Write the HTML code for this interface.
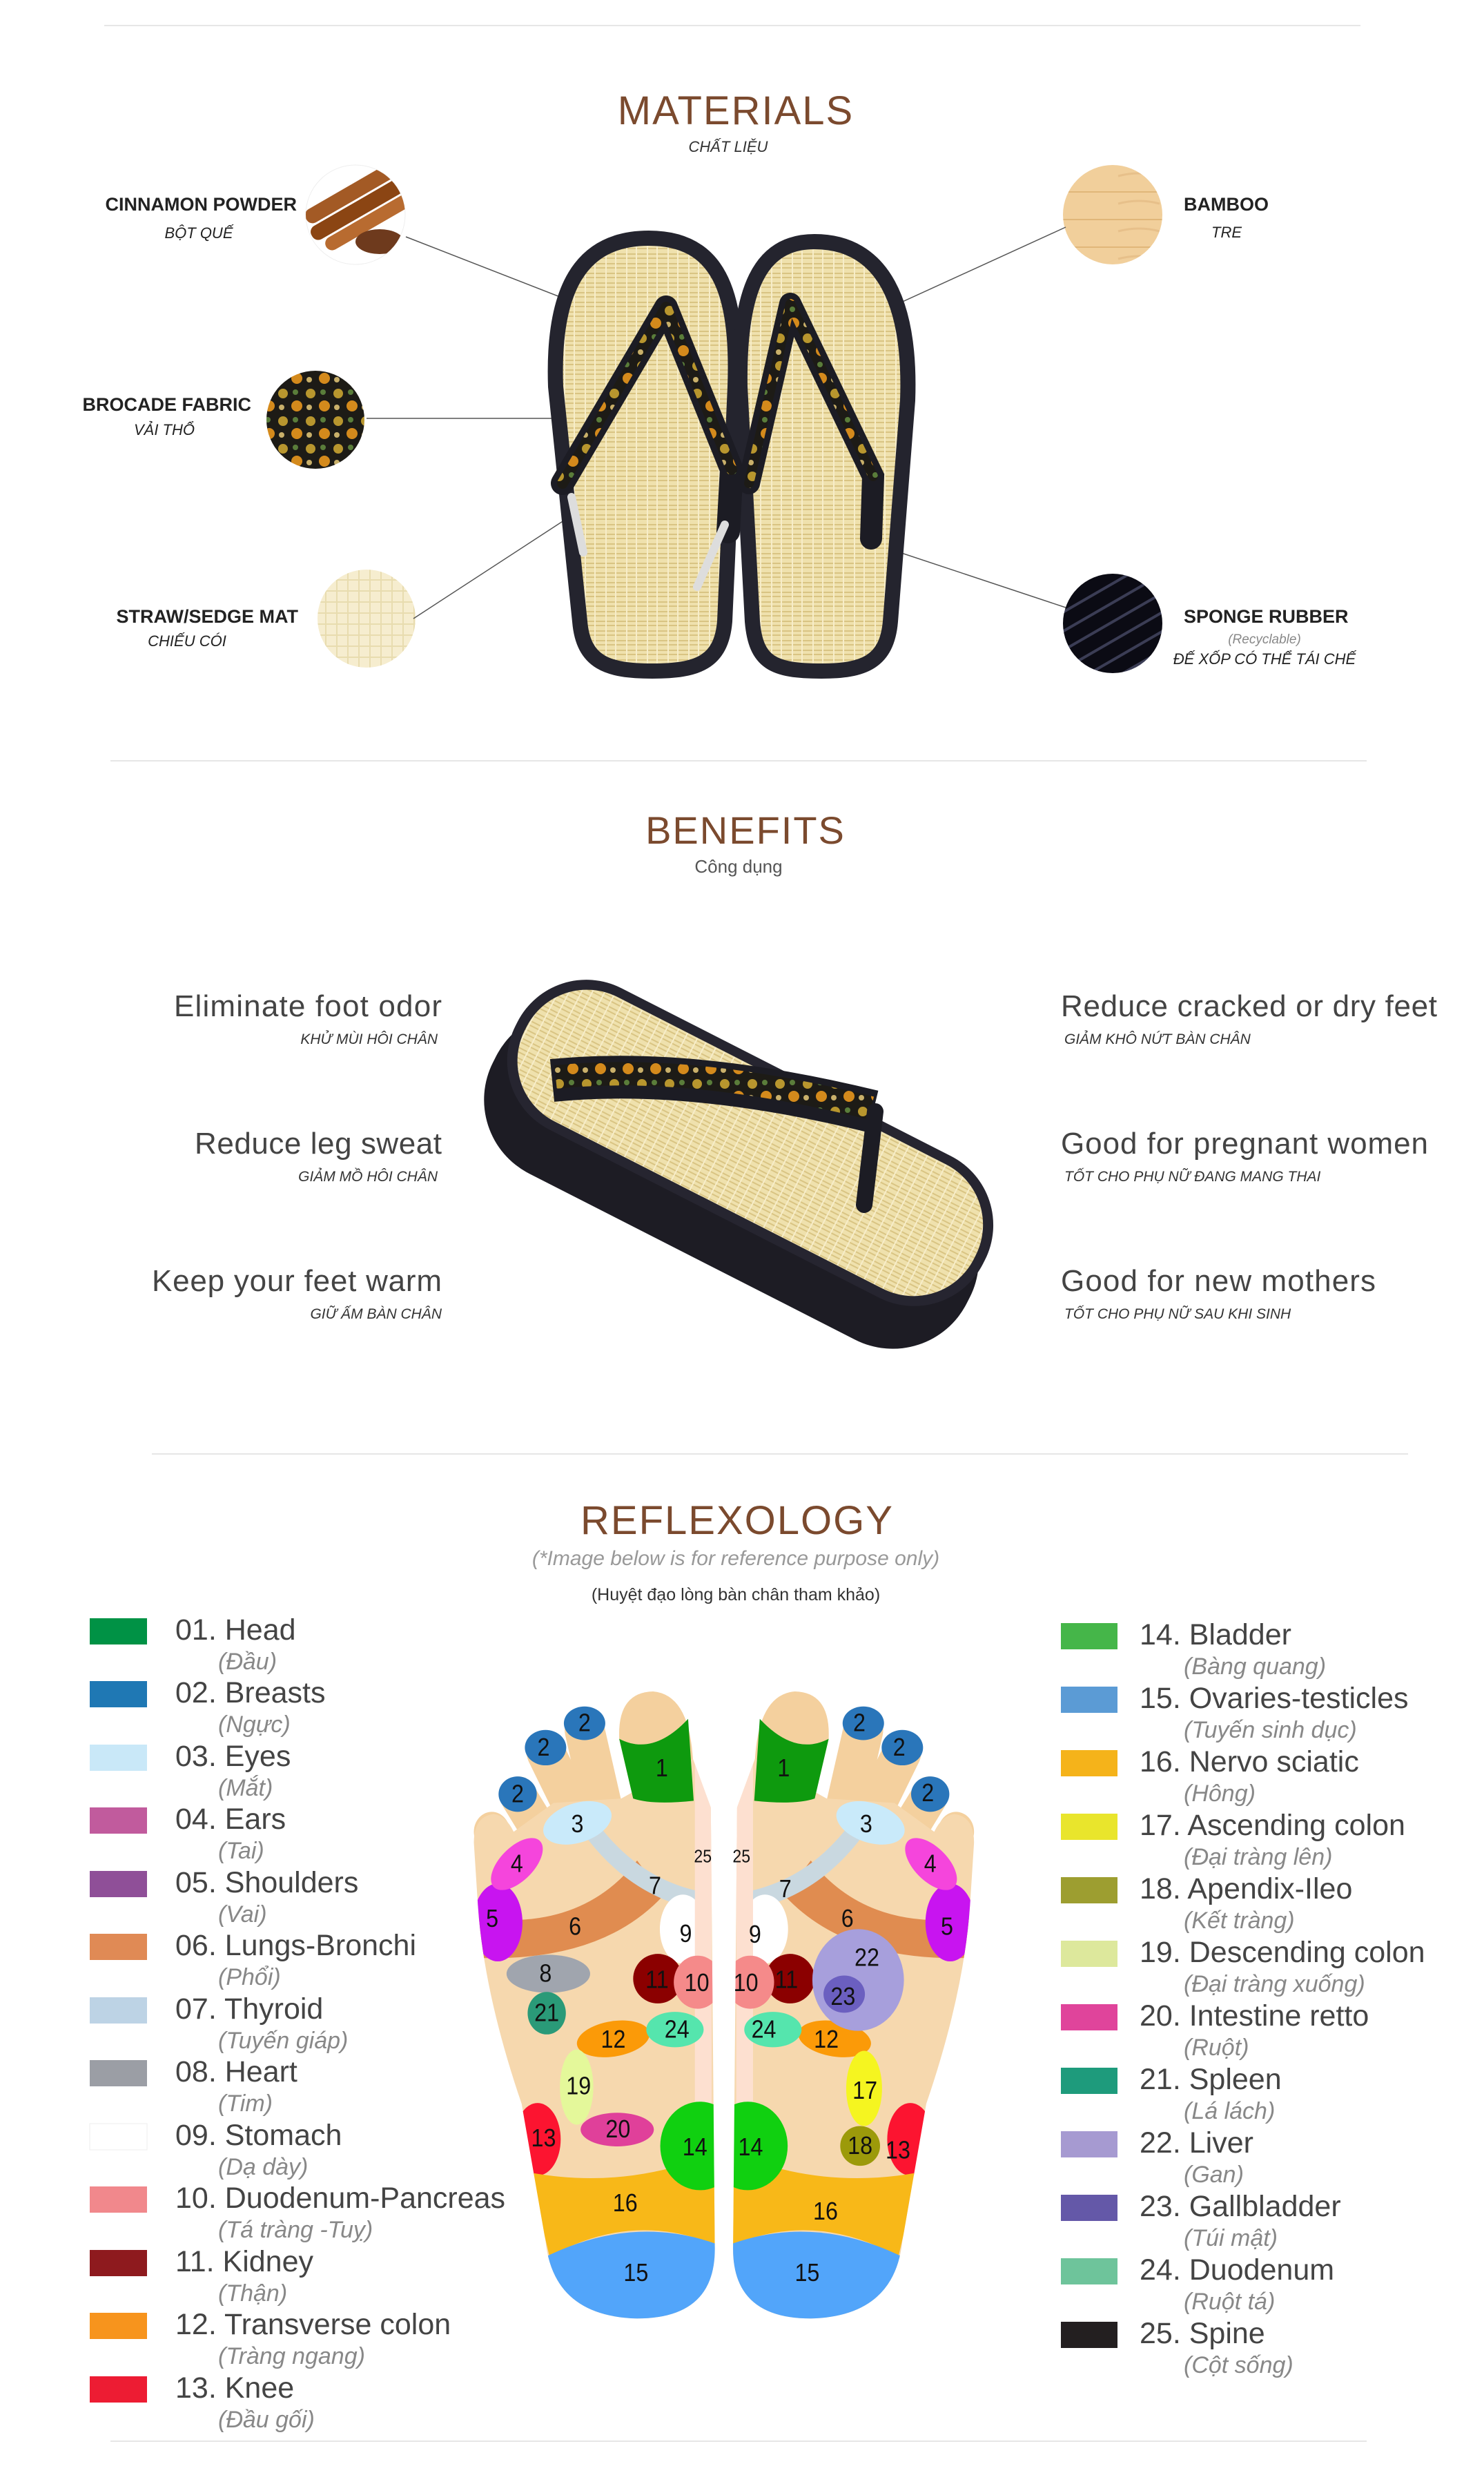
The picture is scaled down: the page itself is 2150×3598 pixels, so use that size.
<!DOCTYPE html>
<html><head><meta charset="utf-8"><style>html,body{margin:0;padding:0;background:#fff}svg{display:block}</style></head>
<body>
<svg width="2150" height="3598" viewBox="0 0 2150 3598" xmlns="http://www.w3.org/2000/svg" font-family="'Liberation Sans', sans-serif">
<defs>
<pattern id="straw" width="30" height="14" patternUnits="userSpaceOnUse"><rect width="30" height="14" fill="#efe1ad"/><path d="M0 4h30M0 10h30" stroke="#d9c483" stroke-width="2"/><path d="M8 0v14M22 0v14" stroke="#f7edc9" stroke-width="2"/></pattern>
<pattern id="brocade" width="40" height="40" patternUnits="userSpaceOnUse"><rect width="40" height="40" fill="#1d1b16"/><circle cx="10" cy="10" r="7" fill="#b8962e"/><circle cx="30" cy="28" r="8" fill="#d48a1c"/><circle cx="28" cy="8" r="4" fill="#5a7d3a"/><circle cx="8" cy="30" r="4" fill="#c9b06a"/></pattern>
<pattern id="rubber" width="24" height="24" patternUnits="userSpaceOnUse" patternTransform="rotate(60)"><rect width="24" height="24" fill="#0b0b14"/><rect width="4" height="24" fill="#3b3d55"/></pattern>
<pattern id="bamboo" width="160" height="40" patternUnits="userSpaceOnUse"><rect width="160" height="40" fill="#f1cf9b"/><path d="M0 38h160" stroke="#e0b679" stroke-width="2"/><path d="M20 15q30 -8 60 0" stroke="#e7c08a" fill="none" stroke-width="3"/></pattern>
<pattern id="mat" width="16" height="16" patternUnits="userSpaceOnUse"><rect width="16" height="16" fill="#f6edcf"/><path d="M0 8h16M8 0v16" stroke="#e8dcaf" stroke-width="2"/></pattern>
<clipPath id="c1"><circle cx="515" cy="311" r="72"/></clipPath>
</defs>

<line x1="151" y1="37" x2="1971" y2="37" stroke="#e6e6e6" stroke-width="2"/>
<line x1="160" y1="1102" x2="1980" y2="1102" stroke="#e6e6e6" stroke-width="2"/>
<line x1="220" y1="2106" x2="2040" y2="2106" stroke="#e6e6e6" stroke-width="2"/>
<line x1="160" y1="3536" x2="1980" y2="3536" stroke="#e6e6e6" stroke-width="2"/>

<text x="1066" y="180" font-size="58" fill="#7b4a2e" text-anchor="middle" letter-spacing="2">MATERIALS</text>
<text x="1055" y="220" font-size="22" font-style="italic" fill="#333" text-anchor="middle">CHẤT LIỆU</text>

<g fill="#222" font-weight="bold" font-size="27">
<text x="430" y="305" text-anchor="end">CINNAMON POWDER</text>
<text x="364" y="595" text-anchor="end">BROCADE FABRIC</text>
<text x="432" y="902" text-anchor="end">STRAW/SEDGE MAT</text>
<text x="1715" y="305">BAMBOO</text>
<text x="1715" y="902">SPONGE RUBBER</text>
</g>
<g fill="#222" font-style="italic" font-size="22">
<text x="288" y="345" text-anchor="middle">BỘT QUẾ</text>
<text x="238" y="630" text-anchor="middle">VẢI THỔ</text>
<text x="271" y="936" text-anchor="middle">CHIẾU CÓI</text>
<text x="1777" y="344" text-anchor="middle">TRE</text>
<text x="1832" y="932" text-anchor="middle" font-size="19" fill="#888">(Recyclable)</text>
<text x="1832" y="962" text-anchor="middle">ĐẾ XỐP CÓ THỂ TÁI CHẾ</text>
</g>

<circle cx="515" cy="311" r="72" fill="#fff" stroke="#eee"/>
<g clip-path="url(#c1)"><g transform="rotate(-30 515 311)"><rect x="450" y="270" width="150" height="22" rx="10" fill="#a35a25"/><rect x="445" y="295" width="150" height="22" rx="10" fill="#8b4513"/><rect x="455" y="320" width="140" height="20" rx="10" fill="#b86b30"/></g><ellipse cx="550" cy="350" rx="35" ry="18" fill="#6e3a1d"/></g>
<circle cx="457" cy="608" r="71" fill="url(#brocade)"/>
<circle cx="531" cy="896" r="71" fill="url(#mat)"/>
<circle cx="1612" cy="311" r="72" fill="url(#bamboo)"/>
<circle cx="1612" cy="903" r="72" fill="url(#rubber)"/>

<g stroke="#555" stroke-width="1.5">
<line x1="588" y1="343" x2="865" y2="451"/>
<line x1="531" y1="606" x2="800" y2="606"/>
<line x1="599" y1="896" x2="823" y2="750"/>
<line x1="1544" y1="329" x2="1253" y2="462"/>
<line x1="1544" y1="880" x2="1285" y2="794"/>
</g>

<path d="M940,345 C1040,345 1070,420 1065,560 L1050,900 C1045,960 1010,972 945,972 C880,972 845,960 840,900 L805,560 C800,420 840,345 940,345 Z" fill="url(#straw)" stroke="#24242e" stroke-width="22"/>
<path d="M1180,350 C1280,350 1320,440 1315,580 L1290,900 C1285,960 1250,972 1190,972 C1120,972 1095,960 1090,900 L1072,560 C1070,420 1100,350 1180,350 Z" fill="url(#straw)" stroke="#24242e" stroke-width="22"/>
<g fill="none" stroke-linecap="round">
<path d="M965,445 L815,700 M965,445 L1060,680 L1055,770" stroke="#1c1c24" stroke-width="34"/>
<path d="M965,445 L815,700 M965,445 L1060,680" stroke="url(#brocade)" stroke-width="16"/>
<path d="M1145,440 L1085,700 M1145,440 L1265,690 L1262,780" stroke="#1c1c24" stroke-width="32"/>
<path d="M1145,440 L1085,700 M1145,440 L1265,690" stroke="url(#brocade)" stroke-width="14"/>
<path d="M828,720 L845,800 M1050,760 L1010,850" stroke="#ddd" stroke-width="12"/>
</g>

<text x="1080" y="1222" font-size="56" fill="#7b4a2e" text-anchor="middle" letter-spacing="2">BENEFITS</text>
<text x="1070" y="1264" font-size="26" fill="#555" text-anchor="middle">Công dụng</text>

<g font-size="44" fill="#444">
<text x="640" y="1472" text-anchor="end" textLength="388">Eliminate foot odor</text>
<text x="640" y="1671" text-anchor="end" textLength="358">Reduce leg sweat</text>
<text x="640" y="1870" text-anchor="end" textLength="420">Keep your feet warm</text>
<text x="1537" y="1472" textLength="545">Reduce cracked or dry feet</text>
<text x="1537" y="1671" textLength="532">Good for pregnant women</text>
<text x="1537" y="1870" textLength="456">Good for new mothers</text>
</g>
<g font-size="21" font-style="italic" fill="#333">
<text x="634" y="1512" text-anchor="end">KHỬ MÙI HÔI CHÂN</text>
<text x="634" y="1711" text-anchor="end">GIẢM MỒ HÔI CHÂN</text>
<text x="640" y="1910" text-anchor="end">GIỮ ẤM BÀN CHÂN</text>
<text x="1542" y="1512">GIẢM KHÔ NỨT BÀN CHÂN</text>
<text x="1542" y="1711">TỐT CHO PHỤ NỮ ĐANG MANG THAI</text>
<text x="1542" y="1910">TỐT CHO PHỤ NỮ SAU KHI SINH</text>
</g>

<g transform="translate(1080,1680) rotate(27)">
<rect x="-390" y="-90" width="770" height="250" rx="120" fill="#1d1c24"/>
<rect x="-385" y="-140" width="760" height="230" rx="112" fill="#262530"/>
<rect x="-370" y="-126" width="730" height="202" rx="98" fill="url(#straw)"/>
</g>
<path d="M800,1565 Q1000,1545 1265,1610" stroke="#1c1c24" stroke-width="62" fill="none"/>
<path d="M805,1560 Q1000,1540 1262,1605" stroke="url(#brocade)" stroke-width="34" fill="none"/>
<path d="M1268,1610 L1252,1745" stroke="#1c1c24" stroke-width="24" fill="none" stroke-linecap="round"/>

<text x="1068" y="2222" font-size="58" fill="#7b4a2e" text-anchor="middle" letter-spacing="2">REFLEXOLOGY</text>
<text x="1066" y="2267" font-size="30" font-style="italic" fill="#999" text-anchor="middle">(*Image below is for reference purpose only)</text>
<text x="1066" y="2318" font-size="25" fill="#333" text-anchor="middle">(Huyệt đạo lòng bàn chân tham khảo)</text>

<g font-size="43" fill="#444">
<rect x="130" y="2344" width="83" height="38" fill="#009245"/><text x="254" y="2375">01. Head</text><text x="316" y="2418" font-size="34" font-style="italic" fill="#888">(Đầu)</text>
<rect x="130" y="2435" width="83" height="38" fill="#1f78b4"/><text x="254" y="2466">02. Breasts</text><text x="316" y="2509" font-size="34" font-style="italic" fill="#888">(Ngực)</text>
<rect x="130" y="2527" width="83" height="38" fill="#c9e8f8"/><text x="254" y="2558">03. Eyes</text><text x="316" y="2601" font-size="34" font-style="italic" fill="#888">(Mắt)</text>
<rect x="130" y="2618" width="83" height="38" fill="#c15b9d"/><text x="254" y="2649">04. Ears</text><text x="316" y="2692" font-size="34" font-style="italic" fill="#888">(Tai)</text>
<rect x="130" y="2710" width="83" height="38" fill="#8f4f98"/><text x="254" y="2741">05. Shoulders</text><text x="316" y="2784" font-size="34" font-style="italic" fill="#888">(Vai)</text>
<rect x="130" y="2801" width="83" height="38" fill="#e08a55"/><text x="254" y="2832">06. Lungs-Bronchi</text><text x="316" y="2875" font-size="34" font-style="italic" fill="#888">(Phổi)</text>
<rect x="130" y="2893" width="83" height="38" fill="#bdd3e5"/><text x="254" y="2924">07. Thyroid</text><text x="316" y="2967" font-size="34" font-style="italic" fill="#888">(Tuyến giáp)</text>
<rect x="130" y="2984" width="83" height="38" fill="#9b9ea5"/><text x="254" y="3015">08. Heart</text><text x="316" y="3058" font-size="34" font-style="italic" fill="#888">(Tim)</text>
<rect x="130" y="3076" width="83" height="38" fill="#fff" stroke="#eee"/><text x="254" y="3107">09. Stomach</text><text x="316" y="3150" font-size="34" font-style="italic" fill="#888">(Dạ dày)</text>
<rect x="130" y="3167" width="83" height="38" fill="#f1888c"/><text x="254" y="3198">10. Duodenum-Pancreas</text><text x="316" y="3241" font-size="34" font-style="italic" fill="#888">(Tá tràng -Tuỵ)</text>
<rect x="130" y="3259" width="83" height="38" fill="#8e1a1e"/><text x="254" y="3290">11. Kidney</text><text x="316" y="3333" font-size="34" font-style="italic" fill="#888">(Thận)</text>
<rect x="130" y="3350" width="83" height="38" fill="#f7941d"/><text x="254" y="3381">12. Transverse colon</text><text x="316" y="3424" font-size="34" font-style="italic" fill="#888">(Tràng ngang)</text>
<rect x="130" y="3442" width="83" height="38" fill="#ed1c33"/><text x="254" y="3473">13. Knee</text><text x="316" y="3516" font-size="34" font-style="italic" fill="#888">(Đầu gối)</text>
</g>
<g font-size="43" fill="#444">
<rect x="1537" y="2351" width="82" height="38" fill="#45b649"/><text x="1651" y="2382">14. Bladder</text><text x="1715" y="2425" font-size="34" font-style="italic" fill="#888">(Bàng quang)</text>
<rect x="1537" y="2443" width="82" height="38" fill="#5b9bd5"/><text x="1651" y="2474">15. Ovaries-testicles</text><text x="1715" y="2517" font-size="34" font-style="italic" fill="#888">(Tuyến sinh dục)</text>
<rect x="1537" y="2535" width="82" height="38" fill="#f5b31a"/><text x="1651" y="2566">16. Nervo sciatic</text><text x="1715" y="2609" font-size="34" font-style="italic" fill="#888">(Hông)</text>
<rect x="1537" y="2627" width="82" height="38" fill="#e9e52c"/><text x="1651" y="2658">17. Ascending colon</text><text x="1715" y="2701" font-size="34" font-style="italic" fill="#888">(Đại tràng lên)</text>
<rect x="1537" y="2719" width="82" height="38" fill="#9d9e30"/><text x="1651" y="2750">18. Apendix-Ileo</text><text x="1715" y="2793" font-size="34" font-style="italic" fill="#888">(Kết tràng)</text>
<rect x="1537" y="2811" width="82" height="38" fill="#dde89c"/><text x="1651" y="2842">19. Descending colon</text><text x="1715" y="2885" font-size="34" font-style="italic" fill="#888">(Đại tràng xuống)</text>
<rect x="1537" y="2903" width="82" height="38" fill="#e0449b"/><text x="1651" y="2934">20. Intestine retto</text><text x="1715" y="2977" font-size="34" font-style="italic" fill="#888">(Ruột)</text>
<rect x="1537" y="2995" width="82" height="38" fill="#1e9b7c"/><text x="1651" y="3026">21. Spleen</text><text x="1715" y="3069" font-size="34" font-style="italic" fill="#888">(Lá lách)</text>
<rect x="1537" y="3087" width="82" height="38" fill="#a69ad1"/><text x="1651" y="3118">22. Liver</text><text x="1715" y="3161" font-size="34" font-style="italic" fill="#888">(Gan)</text>
<rect x="1537" y="3179" width="82" height="38" fill="#6458a8"/><text x="1651" y="3210">23. Gallbladder</text><text x="1715" y="3253" font-size="34" font-style="italic" fill="#888">(Túi mật)</text>
<rect x="1537" y="3271" width="82" height="38" fill="#6ec49b"/><text x="1651" y="3302">24. Duodenum</text><text x="1715" y="3345" font-size="34" font-style="italic" fill="#888">(Ruột tá)</text>
<rect x="1537" y="3363" width="82" height="38" fill="#231f20"/><text x="1651" y="3394">25. Spine</text><text x="1715" y="3437" font-size="34" font-style="italic" fill="#888">(Cột sống)</text>
</g>

<svg x="600" y="2400" width="900" height="1000" viewBox="0 0 1560 1560" preserveAspectRatio="none">
<defs>
<clipPath id="fc" clipPathUnits="userSpaceOnUse"><path d="M700,230 L745,340 L755,1330 Q760,1495 560,1495 Q350,1490 330,1320 L270,1010 Q175,760 160,560 L150,420 Q150,360 200,355 Q230,358 250,395 L350,330 L520,320 Z"/></clipPath>
<g id="foot">
<g stroke="#f4d09e" stroke-linecap="round" fill="none">
<line x1="428" y1="165" x2="475" y2="350" stroke-width="100"/>
<line x1="330" y1="215" x2="420" y2="380" stroke-width="95"/>
<line x1="262" y1="315" x2="340" y2="430" stroke-width="90"/>
<line x1="195" y1="395" x2="250" y2="480" stroke-width="90"/>
</g>
<path d="M515,185 Q510,80 600,78 Q690,85 700,230 L700,325 L550,320 Z" fill="#f4d09e"/>
<path d="M700,230 L745,340 L755,1330 Q760,1495 560,1495 Q350,1490 330,1320 L270,1010 Q175,760 160,560 L150,420 Q150,360 200,355 Q230,358 250,395 L350,330 L520,320 Z" fill="#f6d8ae"/>
<path d="M515,185 Q600,225 688,140 L702,325 Q600,335 550,320 Z" fill="#0e9a0e"/>
<ellipse cx="428" cy="150" rx="52" ry="38" fill="#2a76ba"/>
<ellipse cx="330" cy="205" rx="52" ry="40" fill="#2a76ba"/>
<ellipse cx="260" cy="310" rx="48" ry="40" fill="#2a76ba"/>
<g clip-path="url(#fc)">
<path d="M160,590 Q420,620 560,460 L625,540 Q470,690 160,680 Z" fill="#e08c50"/>
<ellipse cx="210" cy="600" rx="62" ry="88" fill="#c814f0"/>
<path d="M445,390 Q560,530 740,555" stroke="#c9d8e0" stroke-width="42" fill="none"/>
<ellipse cx="675" cy="615" rx="58" ry="78" fill="#fff"/>
<rect x="705" y="240" width="42" height="780" fill="#fde0d0"/>
<ellipse cx="612" cy="727" rx="62" ry="56" fill="#8b0000"/>
<circle cx="712" cy="735" r="60" fill="#f58a8a"/>
<ellipse cx="500" cy="863" rx="92" ry="40" fill="#fb9a08" transform="rotate(-8 500 863)"/>
<ellipse cx="655" cy="842" rx="72" ry="40" fill="#55e5ad"/>
<ellipse cx="310" cy="1090" rx="58" ry="82" fill="#fc1430"/>
<path d="M290,1165 Q500,1200 700,1140 L760,1200 L760,1330 Q550,1250 340,1355 Z" fill="#f8b818"/>
<circle cx="718" cy="1105" r="100" fill="#10d010"/>
<path d="M320,1360 Q550,1255 770,1330 L770,1510 L320,1510 Z" fill="#52a5fa"/>
</g>
<ellipse cx="410" cy="375" rx="88" ry="45" fill="#c9eafa" transform="rotate(-15 410 375)"/>
<ellipse cx="258" cy="468" rx="78" ry="40" fill="#f545dc" transform="rotate(-40 258 468)"/>
</g>
</defs>
<use href="#foot"/>
<use href="#foot" transform="translate(1556,0) scale(-1,1)"/>
<ellipse cx="337" cy="716" rx="105" ry="43" fill="#a0a5ae"/>
<circle cx="333" cy="805" r="48" fill="#2a9a78"/>
<ellipse cx="408" cy="972" rx="42" ry="85" fill="#e4f89a"/>
<ellipse cx="510" cy="1068" rx="92" ry="38" fill="#e0409a"/>
<circle cx="1115" cy="730" r="115" fill="#a79fdc"/>
<ellipse cx="1080" cy="762" rx="52" ry="42" fill="#6b5fc0"/>
<ellipse cx="1130" cy="975" rx="45" ry="85" fill="#f5f520"/>
<ellipse cx="1120" cy="1105" rx="50" ry="45" fill="#9c9a0a"/>
<g font-size="56" fill="#111" text-anchor="middle" dominant-baseline="central">
<text x="622" y="252">1</text><text x="928" y="252">1</text>
<text x="428" y="150">2</text><text x="325" y="205">2</text><text x="260" y="310">2</text>
<text x="1118" y="150">2</text><text x="1218" y="205">2</text><text x="1290" y="308">2</text>
<text x="410" y="378">3</text><text x="1135" y="378">3</text>
<text x="258" y="468">4</text><text x="1296" y="468">4</text>
<text x="196" y="592">5</text><text x="1338" y="610">5</text>
<text x="404" y="610">6</text><text x="1088" y="592">6</text>
<text x="605" y="518">7</text><text x="932" y="525">7</text>
<text x="682" y="626">9</text><text x="856" y="628">9</text>
<text x="330" y="716">8</text>
<text x="610" y="730">11</text><text x="935" y="730">11</text>
<text x="710" y="737">10</text><text x="833" y="737">10</text>
<text x="1137" y="680">22</text><text x="1077" y="768">23</text>
<text x="333" y="805">21</text>
<text x="500" y="865">12</text><text x="1035" y="865">12</text>
<text x="660" y="842">24</text><text x="878" y="842">24</text>
<text x="413" y="970">19</text><text x="1132" y="980">17</text>
<text x="512" y="1068">20</text>
<text x="325" y="1088">13</text><text x="1215" y="1115">13</text>
<text x="705" y="1108">14</text><text x="845" y="1108">14</text>
<text x="1120" y="1105">18</text>
<text x="530" y="1235">16</text><text x="1033" y="1253">16</text>
<text x="557" y="1392">15</text><text x="987" y="1392">15</text>
<text x="725" y="452" font-size="40">25</text><text x="822" y="452" font-size="40">25</text>
</g>
</svg>
</svg>
</body></html>
